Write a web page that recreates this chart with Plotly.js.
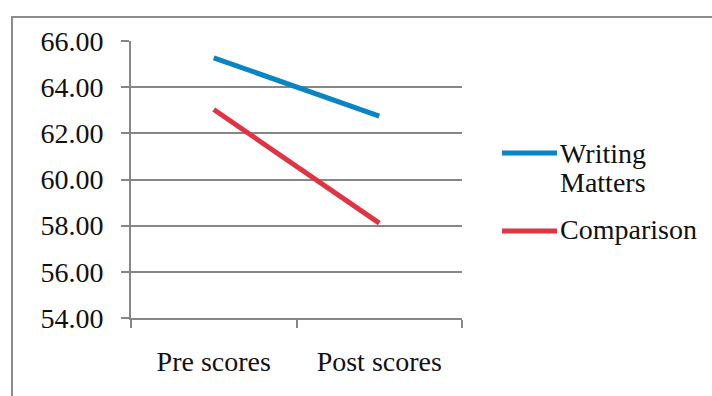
<!DOCTYPE html>
<html>
<head>
<meta charset="utf-8">
<script src="https://cdn.plot.ly/plotly-3.0.1.min.js"></script>
<style>
  html, body { margin: 0; padding: 0; background: #fff; overflow: hidden; }
  #wrap { position: relative; width: 712px; height: 396px; overflow: hidden; }
  #frame { position: absolute; left: 11px; top: 16px; width: 800px; height: 500px;
           border: 2px solid #8c8c8c; box-sizing: border-box; pointer-events: none; }
  #chart { position: absolute; left: 0; top: 0; width: 712px; height: 396px; }
</style>
</head>
<body>
<div id="wrap">
  <div id="chart"></div>
  <div id="frame"></div>
</div>
<script>
const categories = ['Pre scores', 'Post scores'];
const seriesNames = ['Writing Matters', 'Comparison'];
const writingMatters = [65.27, 62.75];
const comparison = [63.03, 58.11];
const yTickValues = [54, 56, 58, 60, 62, 64, 66];
const seriesColors = ['#0b84c3', '#e03444'];

const W = 712, H = 396;
const M = { l: 131, r: 250, t: 41, b: 78 };
const pw = W - M.l - M.r, ph = H - M.t - M.b;
const xp = px => (px - M.l) / pw;
const yp = py => (H - M.b - py) / ph;

const font = { family: 'Liberation Serif, serif', size: 28, color: '#111' };

const traces = [writingMatters, comparison].map((vals, i) => ({
  type: 'scatter', mode: 'lines', x: categories, y: vals, name: seriesNames[i],
  line: { color: seriesColors[i], width: 5 }, showlegend: false, hoverinfo: 'skip'
}));

// Manual legend (longer line samples like the reference)
const legendY = [153, 231];
const shapes = legendY.map((py, i) => ({
  type: 'line', xref: 'paper', yref: 'paper',
  x0: xp(502), x1: xp(557), y0: yp(py), y1: yp(py),
  line: { color: seriesColors[i], width: 5 }
}));
const labelLines = [
  { text: seriesNames[0].split(' ')[0], y: 153 },
  { text: seriesNames[0].split(' ')[1], y: 182.5 },
  { text: seriesNames[1], y: 229.5 }
];
const annotations = labelLines.map(l => ({
  text: l.text, xref: 'paper', yref: 'paper',
  x: xp(559), y: yp(l.y), xanchor: 'left', yanchor: 'middle', align: 'left',
  showarrow: false, font: font, borderpad: 0
}));

const layout = {
  width: W, height: H, margin: M,
  paper_bgcolor: '#fff', plot_bgcolor: '#fff',
  font: font, showlegend: false,
  xaxis: {
    type: 'category', range: [-0.5, 1.5], showgrid: false,
    showline: true, linecolor: '#868686', linewidth: 2,
    ticks: 'outside', tickson: 'boundaries', ticklen: 8, tickcolor: '#868686', tickwidth: 2,
    ticklabelstandoff: 17, tickfont: font, zeroline: false
  },
  yaxis: {
    range: [54, 66], tickvals: yTickValues, tickformat: '.2f',
    showgrid: true, gridcolor: '#868686', gridwidth: 2,
    showline: true, linecolor: '#868686', linewidth: 2,
    ticks: 'outside', ticklen: 8, tickcolor: '#868686', tickwidth: 2,
    ticklabelstandoff: 12, tickfont: font, zeroline: false
  },
  shapes: shapes, annotations: annotations
};

Plotly.newPlot('chart', traces, layout, { staticPlot: true, displayModeBar: false });
</script>
</body>
</html>
